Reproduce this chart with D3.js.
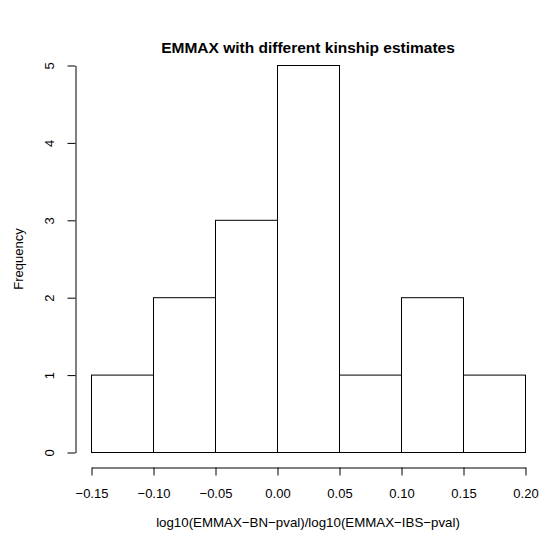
<!DOCTYPE html>
<html><head><meta charset="utf-8">
<script src="https://cdn.jsdelivr.net/npm/d3@7"></script>
<style>body{margin:0;background:#fff}svg{display:block}text{font-family:"Liberation Sans",Arial,sans-serif}</style>
</head><body>
<script>
const binStarts = [-0.15, -0.10, -0.05, 0.00, 0.05, 0.10, 0.15];
const binEnds   = [-0.10, -0.05, 0.00, 0.05, 0.10, 0.15, 0.20];
const counts    = [1, 2, 3, 5, 1, 2, 1];
const xTicks = [-0.15, -0.10, -0.05, 0.00, 0.05, 0.10, 0.15, 0.20];
const yTicks = [0, 1, 2, 3, 4, 5];
const title = "EMMAX with different kinship estimates";
const xLabel = "log10(EMMAX\u2212BN\u2212pval)/log10(EMMAX\u2212IBS\u2212pval)";
const yLabel = "Frequency";

const W = 540, H = 536;
const svg = d3.select("body").append("svg").attr("width", W).attr("height", H);
const x = d3.scaleLinear().domain([-0.15, 0.20]).range([91.5, 525.5]);
const y = d3.scaleLinear().domain([0, 5]).range([452.5, 65.5]);

svg.append("g").selectAll("rect").data(counts).join("rect")
  .attr("x", (d, i) => x(binStarts[i]))
  .attr("y", d => y(d))
  .attr("width", (d, i) => x(binEnds[i]) - x(binStarts[i]))
  .attr("height", d => y(0) - y(d))
  .attr("fill", "#fff").attr("stroke", "#000").attr("stroke-width", 1);

const fmt = d => (d < 0 ? "\u2212" : "") + Math.abs(d).toFixed(2);
const xAxis = svg.append("g").attr("transform", "translate(0,467.5)")
  .call(d3.axisBottom(x).tickValues(xTicks).tickSize(8).tickSizeOuter(0).tickPadding(13).tickFormat(fmt));
xAxis.selectAll("text").attr("font-size", 13).attr("fill", "#000").attr("font-family", "Liberation Sans, Arial, sans-serif");
xAxis.selectAll("line,path").attr("stroke", "#000");

const yAxis = svg.append("g").attr("transform", "translate(75.5,0)")
  .call(d3.axisLeft(y).tickValues(yTicks).tickSize(8).tickSizeOuter(0).tickFormat(d3.format("d")));
yAxis.selectAll("line,path").attr("stroke", "#000");
yAxis.selectAll("text").remove();
yAxis.selectAll(".tick").append("text")
  .attr("transform", "translate(-26,0) rotate(-90)")
  .attr("text-anchor", "middle").attr("dy", "0.35em")
  .attr("font-size", 13).attr("fill", "#000")
  .text(d => d);

svg.append("text").attr("x", 308).attr("y", 52.5).attr("text-anchor", "middle")
  .attr("font-size", 15.5).attr("font-weight", "bold").text(title);
svg.append("text").attr("x", 308).attr("y", 527).attr("text-anchor", "middle")
  .attr("font-size", 13.3).text(xLabel);
svg.append("text").attr("transform", "translate(23,259) rotate(-90)").attr("text-anchor", "middle")
  .attr("font-size", 13).text(yLabel);
</script>
</body></html>
